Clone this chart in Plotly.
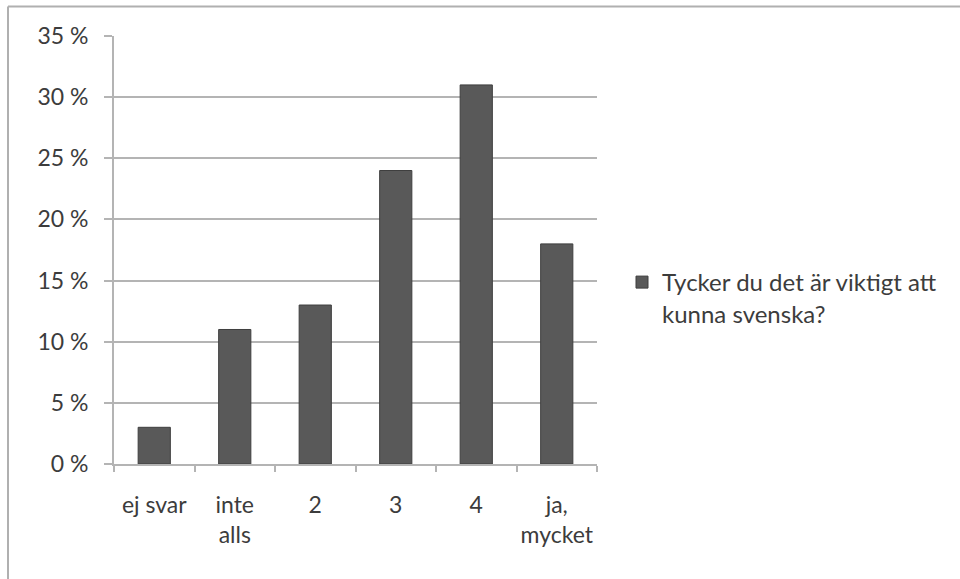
import plotly.graph_objects as go

# Survey answers and share of respondents (%)
categories = ["ej svar", "inte alls", "2", "3", "4", "ja, mycket"]
category_labels = ["ej svar", "inte<br>alls", "2", "3", "4", "ja,<br>mycket"]
shares = [3, 11, 13, 24, 31, 18]
series_name = "Tycker du det är viktigt att<br>kunna svenska?"

y_ticks = [0, 5, 10, 15, 20, 25, 30, 35]
y_tick_labels = [f"{v} %" for v in y_ticks]

W, H = 960, 579
L, R, T, B = 114, 363, 36, 115
pw, ph = W - L - R, H - T - B

font_family = "Lato, 'Open Sans', sans-serif"
text_color = "#3c3c3c"
grid_color = "#b4b4b4"

fig = go.Figure(
    go.Bar(
        x=categories,
        y=shares,
        name=series_name,
        marker=dict(color="#595959", line=dict(color="#3f3f3f", width=1)),
        showlegend=True,
    )
)

# outer chart frame (top and left edges)
fx = (8 - L) / pw
fy = 1 + (T - 6.5) / ph
frame_style = dict(color="#b0b0b0", width=2)
fig.add_shape(type="line", xref="paper", yref="paper",
              x0=fx, x1=(W - L) / pw, y0=fy, y1=fy, line=frame_style)
fig.add_shape(type="line", xref="paper", yref="paper",
              x0=fx, x1=fx, y0=fy, y1=-B / ph, line=frame_style)

fig.update_layout(
    width=W,
    height=H,
    margin=dict(l=L, r=R, t=T, b=B, autoexpand=False),
    paper_bgcolor="white",
    plot_bgcolor="white",
    font=dict(family=font_family, size=23, color=text_color),
    bargap=0.6,
    legend=dict(
        x=(622 - L) / pw,
        y=(464 - 260) / ph,
        xanchor="left",
        yanchor="top",
        valign="top",
        font=dict(size=24, color=text_color),
        itemwidth=30,
        bgcolor="rgba(0,0,0,0)",
    ),
    xaxis=dict(
        type="category",
        tickmode="array",
        tickvals=categories,
        ticktext=category_labels,
        tickson="boundaries",
        tickangle=0,
        automargin=False,
        ticks="outside",
        ticklen=6,
        tickcolor=grid_color,
        tickwidth=2,
        showline=True,
        linecolor=grid_color,
        linewidth=2,
        showgrid=False,
        tickfont=dict(size=23, color=text_color),
        ticklabelstandoff=19,
    ),
    yaxis=dict(
        range=[0, 35],
        tickmode="array",
        tickvals=y_ticks,
        ticktext=y_tick_labels,
        automargin=False,
        ticks="outside",
        ticklen=8,
        tickcolor=grid_color,
        tickwidth=2,
        showline=True,
        linecolor=grid_color,
        linewidth=2,
        showgrid=True,
        gridcolor=grid_color,
        gridwidth=2,
        zeroline=False,
        tickfont=dict(size=23, color=text_color),
        ticklabelstandoff=11,
    ),
)

fig.write_html("out.html")
